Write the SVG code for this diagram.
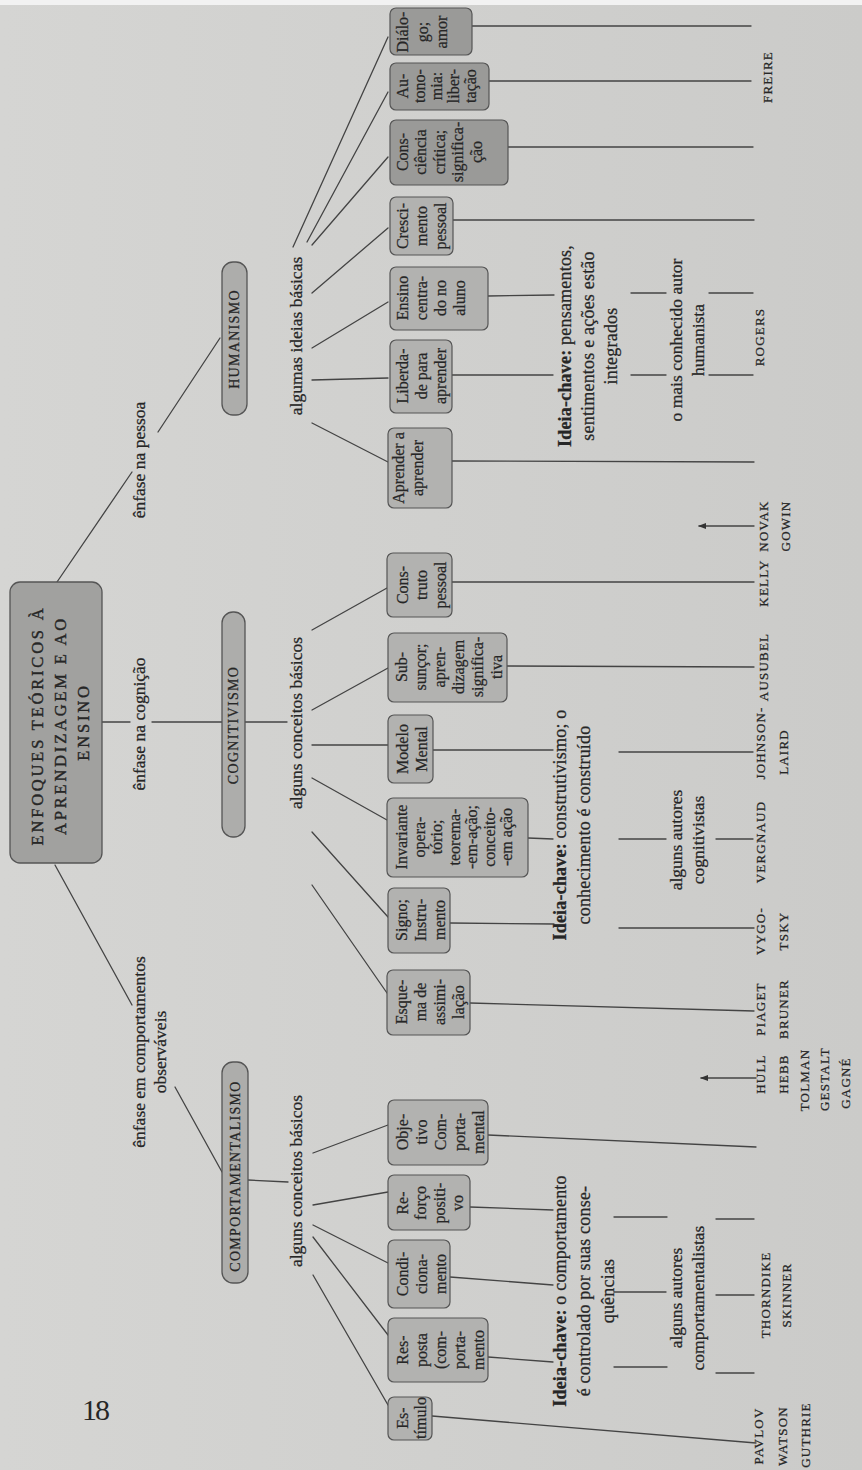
<svg xmlns="http://www.w3.org/2000/svg" width="862" height="1470" viewBox="0 0 862 1470">
<defs>
  <linearGradient id="paper" x1="0" y1="0" x2="1" y2="0">
    <stop offset="0" stop-color="#d5d5d3"/>
    <stop offset="1" stop-color="#cbcbc9"/>
  </linearGradient>
  <marker id="arrow" viewBox="0 0 8 6" refX="7" refY="3" markerWidth="8" markerHeight="6" orient="auto" markerUnits="userSpaceOnUse">
    <path d="M0,0 L8,3 L0,6 z" fill="#333"/>
  </marker>
</defs>
<style>
  .ln { stroke:#444; stroke-width:1.3; fill:none; stroke-linecap:round; }
  .box { fill:#b2b2b0; stroke:#555; stroke-width:1.2; }
  .dark { fill:#9a9a98; }
  .head { fill:#a1a19f; stroke:#555; stroke-width:1.3; }
  .pill { fill:#adadab; stroke:#555; stroke-width:1.3; }
  .t { font-family:"Liberation Serif","Times New Roman",serif; fill:#262626; stroke:#262626; stroke-width:0.25; text-anchor:middle; }
  .bx { font-size:16px; }
  .lbl { font-size:17.5px; }
  .idea { font-size:18px; letter-spacing:0.2px; }
  .name { font-size:13px; letter-spacing:1.2px; }
  .grp { font-size:14px; letter-spacing:1.3px; }
  .ttl { font-size:16.5px; letter-spacing:2.8px; stroke-width:0.4; }
  .pg { font-size:30px; letter-spacing:-2px; stroke-width:0; }
  .b { font-weight:bold; }
</style>

<!-- paper -->
<rect x="0" y="0" width="862" height="1470" fill="url(#paper)"/>
<rect x="0" y="0" width="862" height="5" fill="#f2f2f2"/>

<!-- connectors -->
<g id="connectors">
  <!-- from the title to the three approaches -->
  <line class="ln" x1="57" y1="582" x2="132" y2="472"/>
  <line class="ln" x1="158" y1="432" x2="220" y2="338"/>
  <line class="ln" x1="102" y1="722" x2="130" y2="722"/>
  <line class="ln" x1="152" y1="722" x2="222" y2="722"/>
  <line class="ln" x1="245" y1="722" x2="287" y2="722"/>
  <line class="ln" x1="55" y1="865" x2="132" y2="1005"/>
  <line class="ln" x1="175" y1="1087" x2="222" y2="1172"/>
  <line class="ln" x1="248" y1="1180" x2="288" y2="1182"/>

  <!-- humanismo fan -->
  <line class="ln" x1="293" y1="247" x2="388" y2="37"/>
  <line class="ln" x1="307" y1="242" x2="388" y2="92"/>
  <line class="ln" x1="312" y1="245" x2="388" y2="157"/>
  <line class="ln" x1="312" y1="293" x2="388" y2="228"/>
  <line class="ln" x1="312" y1="348" x2="388" y2="302"/>
  <line class="ln" x1="312" y1="380" x2="388" y2="378"/>
  <line class="ln" x1="312" y1="423" x2="388" y2="462"/>

  <!-- cognitivismo fan -->
  <line class="ln" x1="312" y1="630" x2="387" y2="588"/>
  <line class="ln" x1="312" y1="710" x2="388" y2="668"/>
  <line class="ln" x1="312" y1="745" x2="388" y2="745"/>
  <line class="ln" x1="312" y1="778" x2="387" y2="820"/>
  <line class="ln" x1="312" y1="832" x2="388" y2="917"/>
  <line class="ln" x1="312" y1="885" x2="387" y2="993"/>

  <!-- comportamentalismo fan -->
  <line class="ln" x1="313" y1="1153" x2="388" y2="1125"/>
  <line class="ln" x1="313" y1="1205" x2="388" y2="1192"/>
  <line class="ln" x1="313" y1="1225" x2="388" y2="1263"/>
  <line class="ln" x1="313" y1="1237" x2="388" y2="1335"/>
  <line class="ln" x1="313" y1="1275" x2="388" y2="1405"/>

  <!-- humanismo: boxes to authors -->
  <line class="ln" x1="472" y1="26" x2="751" y2="26"/>
  <line class="ln" x1="489" y1="81" x2="751" y2="81"/>
  <line class="ln" x1="508" y1="147" x2="753" y2="147"/>
  <line class="ln" x1="453" y1="220" x2="754" y2="220"/>
  <line class="ln" x1="488" y1="296" x2="554" y2="295"/>
  <line class="ln" x1="631" y1="293" x2="666" y2="293"/>
  <line class="ln" x1="709" y1="293" x2="753" y2="293"/>
  <line class="ln" x1="452" y1="375" x2="553" y2="375"/>
  <line class="ln" x1="631" y1="375" x2="666" y2="375"/>
  <line class="ln" x1="709" y1="375" x2="753" y2="375"/>
  <line class="ln" x1="452" y1="461" x2="754" y2="462"/>

  <!-- cognitivismo: boxes to authors -->
  <line class="ln" x1="452" y1="582" x2="754" y2="582"/>
  <line class="ln" x1="507" y1="666" x2="754" y2="667"/>
  <line class="ln" x1="433" y1="750" x2="553" y2="750"/>
  <line class="ln" x1="619" y1="752" x2="753" y2="752"/>
  <line class="ln" x1="528" y1="838" x2="553" y2="839"/>
  <line class="ln" x1="619" y1="839" x2="666" y2="839"/>
  <line class="ln" x1="716" y1="839" x2="753" y2="839"/>
  <line class="ln" x1="450" y1="923" x2="554" y2="924"/>
  <line class="ln" x1="619" y1="928" x2="754" y2="928"/>
  <line class="ln" x1="470" y1="1003" x2="754" y2="1011"/>

  <!-- comportamentalismo: boxes to authors -->
  <line class="ln" x1="488" y1="1135" x2="756" y2="1147"/>
  <line class="ln" x1="470" y1="1207" x2="553" y2="1210"/>
  <line class="ln" x1="614" y1="1217" x2="667" y2="1217"/>
  <line class="ln" x1="716" y1="1219" x2="754" y2="1219"/>
  <line class="ln" x1="450" y1="1277" x2="553" y2="1285"/>
  <line class="ln" x1="614" y1="1292" x2="666" y2="1292"/>
  <line class="ln" x1="716" y1="1295" x2="754" y2="1295"/>
  <line class="ln" x1="488" y1="1357" x2="553" y2="1362"/>
  <line class="ln" x1="614" y1="1367" x2="667" y2="1367"/>
  <line class="ln" x1="716" y1="1373" x2="754" y2="1373"/>
  <line class="ln" x1="432" y1="1416" x2="756" y2="1443"/>

  <!-- arrows -->
  <line class="ln" x1="754" y1="526" x2="699" y2="526" marker-end="url(#arrow)"/>
  <line class="ln" x1="756" y1="1078" x2="701" y2="1078" marker-end="url(#arrow)"/>
</g>

<!-- title -->
<g id="title">
  <rect class="head" x="10" y="582" width="92" height="281" rx="10"/>
  <text class="t ttl" transform="translate(0,722) rotate(-90)">
    <tspan x="0" y="43">ENFOQUES TEÓRICOS À</tspan>
    <tspan x="0" y="66">APRENDIZAGEM E AO</tspan>
    <tspan x="0" y="89">ENSINO</tspan>
  </text>
</g>

<!-- edge labels -->
<g id="label-pessoa"><text class="t lbl" transform="translate(0,460) rotate(-90)"><tspan x="0" y="145">ênfase na pessoa</tspan></text></g>
<g id="label-cognicao"><text class="t lbl" transform="translate(0,724) rotate(-90)"><tspan x="0" y="145">ênfase na cognição</tspan></text></g>
<g id="label-comportamentos"><text class="t lbl" transform="translate(0,1052) rotate(-90)"><tspan x="0" y="145">ênfase em comportamentos</tspan><tspan x="0" y="166">observáveis</tspan></text></g>

<!-- approaches -->
<g id="humanismo">
  <rect class="pill" x="222" y="262" width="25" height="153" rx="11"/>
  <text class="t grp" transform="translate(0,339) rotate(-90)"><tspan x="0" y="239">HUMANISMO</tspan></text>
</g>
<g id="cognitivismo">
  <rect class="pill" x="222" y="612" width="23" height="225" rx="11"/>
  <text class="t grp" transform="translate(0,725) rotate(-90)"><tspan x="0" y="238">COGNITIVISMO</tspan></text>
</g>
<g id="comportamentalismo">
  <rect class="pill" x="222" y="1062" width="26" height="221" rx="11"/>
  <text class="t grp" transform="translate(0,1176) rotate(-90)"><tspan x="0" y="240">COMPORTAMENTALISMO</tspan></text>
</g>

<g id="label-ideias"><text class="t lbl" transform="translate(0,336) rotate(-90)"><tspan x="0" y="302">algumas ideias básicas</tspan></text></g>
<g id="label-conceitos-cog"><text class="t lbl" transform="translate(0,723) rotate(-90)"><tspan x="0" y="302">alguns conceitos básicos</tspan></text></g>
<g id="label-conceitos-comp"><text class="t lbl" transform="translate(0,1181) rotate(-90)"><tspan x="0" y="302">alguns conceitos básicos</tspan></text></g>

<!-- humanismo ideas -->
<g id="dialogo">
  <rect class="box dark" x="390" y="8" width="82" height="47" rx="6"/>
  <text class="t bx" transform="translate(0,32) rotate(-90)"><tspan x="0" y="408">Diálo-</tspan><tspan x="0" y="428">go;</tspan><tspan x="0" y="447">amor</tspan></text>
</g>
<g id="autonomia">
  <rect class="box dark" x="390" y="63" width="99" height="47" rx="6"/>
  <text class="t bx" transform="translate(0,86) rotate(-90)"><tspan x="0" y="408">Au-</tspan><tspan x="0" y="425">tono-</tspan><tspan x="0" y="442">mia:</tspan><tspan x="0" y="459">liber-</tspan><tspan x="0" y="476">tação</tspan></text>
</g>
<g id="consciencia">
  <rect class="box dark" x="390" y="120" width="118" height="65" rx="6"/>
  <text class="t bx" transform="translate(0,152) rotate(-90)"><tspan x="0" y="408">Cons-</tspan><tspan x="0" y="426">ciência</tspan><tspan x="0" y="445">crítica;</tspan><tspan x="0" y="463">significa-</tspan><tspan x="0" y="482">ção</tspan></text>
</g>
<g id="crescimento">
  <rect class="box" x="390" y="197" width="63" height="58" rx="6"/>
  <text class="t bx" transform="translate(0,226) rotate(-90)"><tspan x="0" y="408">Cresci-</tspan><tspan x="0" y="427">mento</tspan><tspan x="0" y="446">pessoal</tspan></text>
</g>
<g id="ensino-centrado">
  <rect class="box" x="390" y="267" width="98" height="63" rx="6"/>
  <text class="t bx" transform="translate(0,298) rotate(-90)"><tspan x="0" y="408">Ensino</tspan><tspan x="0" y="427">centra-</tspan><tspan x="0" y="446">do no</tspan><tspan x="0" y="465">aluno</tspan></text>
</g>
<g id="liberdade">
  <rect class="box" x="390" y="340" width="62" height="73" rx="6"/>
  <text class="t bx" transform="translate(0,376) rotate(-90)"><tspan x="0" y="408">Liberda-</tspan><tspan x="0" y="427">de para</tspan><tspan x="0" y="446">aprender</tspan></text>
</g>
<g id="aprender">
  <rect class="box" x="388" y="428" width="64" height="80" rx="6"/>
  <text class="t bx" transform="translate(0,468) rotate(-90)"><tspan x="0" y="404">Aprender a</tspan><tspan x="0" y="423">aprender</tspan></text>
</g>

<!-- cognitivismo concepts -->
<g id="construto">
  <rect class="box" x="387" y="553" width="65" height="64" rx="6"/>
  <text class="t bx" transform="translate(0,585) rotate(-90)"><tspan x="0" y="408">Cons-</tspan><tspan x="0" y="427">truto</tspan><tspan x="0" y="446">pessoal</tspan></text>
</g>
<g id="subsuncor">
  <rect class="box" x="388" y="633" width="119" height="69" rx="6"/>
  <text class="t bx" transform="translate(0,667) rotate(-90)"><tspan x="0" y="407">Sub-</tspan><tspan x="0" y="426">sunçor;</tspan><tspan x="0" y="445">apren-</tspan><tspan x="0" y="464">dizagem</tspan><tspan x="0" y="483">significa-</tspan><tspan x="0" y="502">tiva</tspan></text>
</g>
<g id="modelo-mental">
  <rect class="box" x="388" y="715" width="45" height="68" rx="6"/>
  <text class="t bx" transform="translate(0,749) rotate(-90)"><tspan x="0" y="408">Modelo</tspan><tspan x="0" y="427">Mental</tspan></text>
</g>
<g id="invariante">
  <rect class="box" x="387" y="798" width="141" height="79" rx="6"/>
  <text class="t bx" transform="translate(0,837) rotate(-90)"><tspan x="0" y="407">Invariante</tspan><tspan x="0" y="424.5">opera-</tspan><tspan x="0" y="442">tório;</tspan><tspan x="0" y="459.5">teorema-</tspan><tspan x="0" y="477">-em-ação;</tspan><tspan x="0" y="494.5">conceito-</tspan><tspan x="0" y="512">-em ação</tspan></text>
</g>
<g id="signo">
  <rect class="box" x="388" y="888" width="62" height="65" rx="6"/>
  <text class="t bx" transform="translate(0,920) rotate(-90)"><tspan x="0" y="407">Signo;</tspan><tspan x="0" y="426">Instru-</tspan><tspan x="0" y="445">mento</tspan></text>
</g>
<g id="esquema">
  <rect class="box" x="387" y="970" width="83" height="65" rx="6"/>
  <text class="t bx" transform="translate(0,1002) rotate(-90)"><tspan x="0" y="407">Esque-</tspan><tspan x="0" y="426">ma de</tspan><tspan x="0" y="445">assimi-</tspan><tspan x="0" y="464">lação</tspan></text>
</g>

<!-- comportamentalismo concepts -->
<g id="objetivo">
  <rect class="box" x="388" y="1100" width="100" height="65" rx="6"/>
  <text class="t bx" transform="translate(0,1132) rotate(-90)"><tspan x="0" y="408">Obje-</tspan><tspan x="0" y="427">tivo</tspan><tspan x="0" y="446">Com-</tspan><tspan x="0" y="465">porta-</tspan><tspan x="0" y="484">mental</tspan></text>
</g>
<g id="reforco">
  <rect class="box" x="388" y="1175" width="82" height="55" rx="6"/>
  <text class="t bx" transform="translate(0,1203) rotate(-90)"><tspan x="0" y="408">Re-</tspan><tspan x="0" y="426">forço</tspan><tspan x="0" y="445">positi-</tspan><tspan x="0" y="463">vo</tspan></text>
</g>
<g id="condicionamento">
  <rect class="box" x="388" y="1240" width="62" height="68" rx="6"/>
  <text class="t bx" transform="translate(0,1274) rotate(-90)"><tspan x="0" y="408">Condi-</tspan><tspan x="0" y="427">ciona-</tspan><tspan x="0" y="446">mento</tspan></text>
</g>
<g id="resposta">
  <rect class="box" x="388" y="1318" width="100" height="64" rx="6"/>
  <text class="t bx" transform="translate(0,1350) rotate(-90)"><tspan x="0" y="408">Res-</tspan><tspan x="0" y="427">posta</tspan><tspan x="0" y="446">(com-</tspan><tspan x="0" y="465">porta-</tspan><tspan x="0" y="484">mento</tspan></text>
</g>
<g id="estimulo">
  <rect class="box" x="388" y="1397" width="44" height="43" rx="6"/>
  <text class="t bx" transform="translate(0,1418) rotate(-90)"><tspan x="0" y="408">Es-</tspan><tspan x="0" y="426">tímulo</tspan></text>
</g>

<!-- key ideas -->
<g id="ideia-humanismo">
  <text class="t idea" transform="translate(0,346) rotate(-90)"><tspan x="0" y="571"><tspan class="b">Ideia-chave:</tspan> pensamentos,</tspan><tspan x="0" y="594">sentimentos e ações estão</tspan><tspan x="0" y="617">integrados</tspan></text>
</g>
<g id="ideia-cognitivismo">
  <text class="t idea" transform="translate(0,825) rotate(-90)"><tspan x="0" y="566"><tspan class="b">Ideia-chave:</tspan> construtivismo; o</tspan><tspan x="0" y="590">conhecimento é construído</tspan></text>
</g>
<g id="ideia-comportamentalismo">
  <text class="t idea" transform="translate(0,1291) rotate(-90)"><tspan x="0" y="566"><tspan class="b">Ideia-chave:</tspan> o comportamento</tspan><tspan x="0" y="590">é controlado por suas conse-</tspan><tspan x="0" y="614">quências</tspan></text>
</g>

<!-- author headings -->
<g id="autor-humanista"><text class="t lbl" transform="translate(0,340) rotate(-90)"><tspan x="0" y="682">o mais conhecido autor</tspan><tspan x="0" y="704">humanista</tspan></text></g>
<g id="autores-cognitivistas"><text class="t lbl" transform="translate(0,840) rotate(-90)"><tspan x="0" y="682">alguns autores</tspan><tspan x="0" y="704">cognitivistas</tspan></text></g>
<g id="autores-comportamentalistas"><text class="t lbl" transform="translate(0,1298) rotate(-90)"><tspan x="0" y="682">alguns autores</tspan><tspan x="0" y="704">comportamentalistas</tspan></text></g>

<!-- authors -->
<g id="freire"><text class="t name" transform="translate(0,77) rotate(-90)"><tspan x="0" y="772">FREIRE</tspan></text></g>
<g id="rogers"><text class="t name" transform="translate(0,337) rotate(-90)"><tspan x="0" y="764">ROGERS</tspan></text></g>
<g id="novak-gowin"><text class="t name" transform="translate(0,526) rotate(-90)"><tspan x="0" y="768">NOVAK</tspan><tspan x="0" y="790">GOWIN</tspan></text></g>
<g id="kelly"><text class="t name" transform="translate(0,583) rotate(-90)"><tspan x="0" y="768">KELLY</tspan></text></g>
<g id="ausubel"><text class="t name" transform="translate(0,667) rotate(-90)"><tspan x="0" y="768">AUSUBEL</tspan></text></g>
<g id="johnson-laird"><text class="t name" transform="translate(0,743) rotate(-90)"><tspan x="0" y="765">JOHNSON-</tspan><tspan x="0" y="788" dx="-9">LAIRD</tspan></text></g>
<g id="vergnaud"><text class="t name" transform="translate(0,842) rotate(-90)"><tspan x="0" y="765">VERGNAUD</tspan></text></g>
<g id="vygotsky"><text class="t name" transform="translate(0,931) rotate(-90)"><tspan x="0" y="765">VYGO-</tspan><tspan x="0" y="788">TSKY</tspan></text></g>
<g id="piaget-bruner"><text class="t name" transform="translate(0,1009) rotate(-90)"><tspan x="0" y="765">PIAGET</tspan><tspan x="0" y="788">BRUNER</tspan></text></g>
<g id="hull-group"><text class="t name" transform="translate(0,1074) rotate(-90)"><tspan x="0" y="765">HULL</tspan><tspan x="0" y="788">HEBB</tspan><tspan x="0" y="809" dx="-6">TOLMAN</tspan><tspan x="0" y="829" dx="-5">GESTALT</tspan><tspan x="0" y="850" dx="-9">GAGNÉ</tspan></text></g>
<g id="thorndike-skinner"><text class="t name" transform="translate(0,1295) rotate(-90)"><tspan x="0" y="770">THORNDIKE</tspan><tspan x="0" y="791">SKINNER</tspan></text></g>
<g id="pavlov-group"><text class="t name" transform="translate(0,1436) rotate(-90)"><tspan x="0" y="763">PAVLOV</tspan><tspan x="0" y="787">WATSON</tspan><tspan x="0" y="810" dx="1">GUTHRIE</tspan></text></g>

<!-- page number -->
<g id="page-number"><text class="t pg" x="95" y="1420">18</text></g>
</svg>
